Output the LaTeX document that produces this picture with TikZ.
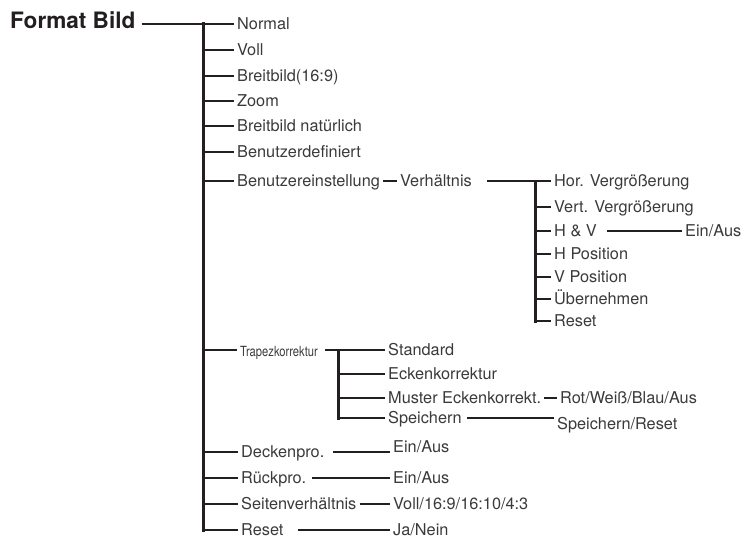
\documentclass[tikz,border=0pt]{standalone}
\usepackage{fontspec}
\setmainfont{TeX Gyre Heros}
\definecolor{ink}{HTML}{231F20}
\definecolor{txt}{HTML}{3A3A3A}
\begin{document}
\begin{tikzpicture}[x=1pt,y=-1pt,
  lbl/.style={anchor=west, inner xsep=3pt, inner ysep=0pt, text height=11.7pt, text depth=0pt,
    font=\fontsize{16.3}{18}\selectfont, text=txt},
  smalllbl/.style={anchor=west, inner xsep=3pt, inner ysep=0pt, text height=10pt, text depth=0pt, text=txt},
  titlelbl/.style={anchor=west, inner xsep=6pt, inner ysep=0pt, text height=16pt, text depth=0pt,
    font=\fontsize{22.6}{24}\selectfont\bfseries, text=ink},
  conn/.style={draw=ink, line width=2.8pt},
  thinconn/.style={draw=ink, line width=2.2pt},
  trunk/.style={draw=ink, line width=3pt, line cap=rect},
]
\useasboundingbox (0,0) rectangle (754,540);

% title
\node[titlelbl] (fb) at (4,21) {Format Bild};

% main items
\node[lbl] (n1) at (234,24) {Normal};
\node[lbl] (n2) at (234,50) {Voll};
\node[lbl] (n3) at (234,76) {Breitbild(16:9)};
\node[lbl] (n4) at (234,101) {Zoom};
\node[lbl] (n5) at (234,126) {Breitbild natürlich};
\node[lbl] (n6) at (234,152) {Benutzerdefiniert};
\node[lbl] (n7) at (234,181) {Benutzereinstellung};
\node[smalllbl] (n8) at (237,351) {\scalebox{0.8}[1]{\fontsize{14}{15}\selectfont Trapezkorrektur}};
\node[lbl] (n9) at (238,452) {Deckenpro.};
\node[lbl] (n10) at (238,478) {Rückpro.};
\node[lbl] (n11) at (238,504) {Seitenverhältnis};
\node[lbl] (n12) at (238,530) {Reset};

\coordinate (j1) at (203,24);
\coordinate (j2) at (203,50);
\coordinate (j3) at (203,76);
\coordinate (j4) at (203,101);
\coordinate (j5) at (203,126);
\coordinate (j6) at (203,152);
\coordinate (j7) at (203,181);
\coordinate (j8) at (203,350);
\coordinate (j9) at (203,452);
\coordinate (j10) at (203,478);
\coordinate (j11) at (203,504);
\coordinate (j12) at (203,530);

\draw[thinconn] (fb.east |- j1) -- (n1.west);
\draw[trunk] (j1) -- (j12);
\foreach \i in {2,...,12} { \draw[conn] (j\i) -- (j\i -| n\i.west); }

% Verhaeltnis subtree
\node[lbl] (vh) at (397,181) {Verhältnis};
\draw[conn] (n7.east) -- (vh.west);
\coordinate (vs) at (487,181);
\node[lbl] (h1) at (551,181) {Hor. Vergrößerung};
\node[lbl] (h2) at (551,207) {Vert. Vergrößerung};
\node[lbl] (h3) at (551,231) {H \& V};
\node[lbl] (h4) at (551,254) {H Position};
\node[lbl] (h5) at (551,277) {V Position};
\node[lbl] (h6) at (551,299) {Übernehmen};
\node[lbl] (h7) at (551,321) {Reset};
\coordinate (v1) at (535,181);
\coordinate (v2) at (535,207);
\coordinate (v3) at (535,231);
\coordinate (v4) at (535,254);
\coordinate (v5) at (535,277);
\coordinate (v6) at (535,299);
\coordinate (v7) at (535,321);
\draw[conn] (vs) -- (h1.west);
\draw[trunk] (v1) -- (v7);
\foreach \i in {2,...,7} { \draw[conn] (v\i) -- (h\i.west); }
\coordinate (hvs) at (607,231);
\node[lbl] (hvea) at (682,231) {Ein/Aus};
\draw[conn] (hvs) -- (hvea.west);

% Trapezkorrektur subtree
\coordinate (ts) at (325,350);
\node[lbl] (s1) at (385,350) {Standard};
\node[lbl] (s2) at (385,374) {Eckenkorrektur};
\node[lbl] (s3) at (385,398) {Muster Eckenkorrekt.};
\node[lbl] (s4) at (385,418) {Speichern};
\coordinate (t1) at (338,350);
\coordinate (t2) at (338,374);
\coordinate (t3) at (338,398);
\coordinate (t4) at (338,418);
\draw[conn] (ts) -- (s1.west);
\draw[trunk] (t1) -- (t4);
\foreach \i in {2,3,4} { \draw[conn] (t\i) -- (s\i.west); }

\node[lbl] (rw) at (557,398) {Rot/Weiß/Blau/Aus};
\draw[conn] (s3.east) -- (rw.west);
\coordinate (sps) at (467,418);
\node[lbl] (sr) at (554,424) {Speichern/Reset};
\draw[conn] (sps) -- (sps -| sr.west);

% lower items
\coordinate (ds) at (333,452);
\node[lbl] (dea) at (390,447) {Ein/Aus};
\draw[conn] (ds) -- (ds -| dea.west);
\coordinate (rs) at (312,478);
\node[lbl] (rea) at (390,478) {Ein/Aus};
\draw[conn] (rs) -- (rea.west);
\node[lbl] (sva) at (390,504) {Voll/16:9/16:10/4:3};
\draw[conn] (n11.east) -- (sva.west);
\coordinate (res) at (298,530);
\node[lbl] (jn) at (390,530) {Ja/Nein};
\draw[conn] (res) -- (jn.west);
\end{tikzpicture}
\end{document}
